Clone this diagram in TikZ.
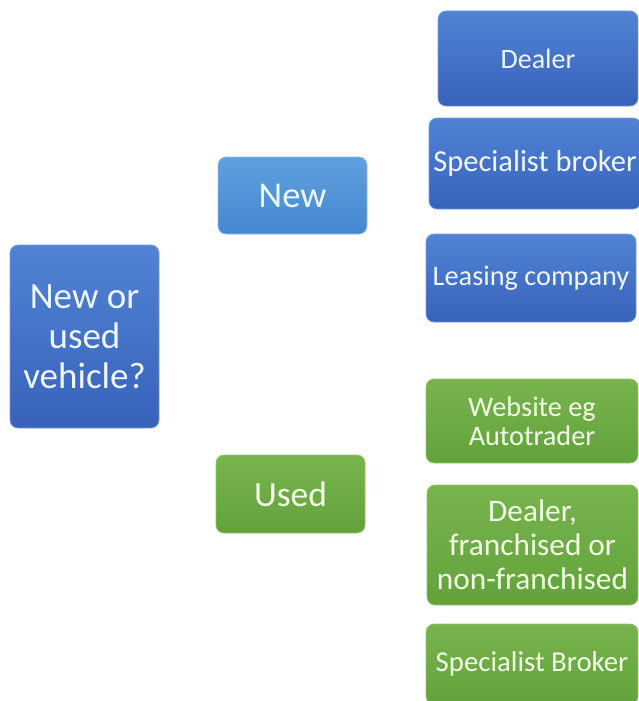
\documentclass[tikz,border=0pt]{standalone}
\usepackage{fontspec}
\setmainfont{Carlito}

% box fills, light at the top and darker below
\definecolor{blueTop}{HTML}{5083D4}
\definecolor{blueBot}{HTML}{3862BA}
\definecolor{skyTop}{HTML}{5FA0DE}
\definecolor{skyBot}{HTML}{4488D0}
\definecolor{greenTop}{HTML}{78B44E}
\definecolor{greenBot}{HTML}{63A23B}
\definecolor{blueText}{HTML}{EEF6FF}
\definecolor{greenText}{HTML}{F2FFE6}

\tikzset{
  box/.style={rectangle,rounded corners=8pt,align=center,inner sep=0pt,line width=0.7pt},
  darkbox/.style={box,draw=blueTop!80!white,top color=blueTop,bottom color=blueBot,text=blueText},
  skybox/.style={box,draw=skyTop!70!white,top color=skyTop,bottom color=skyBot,text=blueText},
  greenbox/.style={box,draw=greenTop!80!white,top color=greenTop,bottom color=greenBot,text=greenText}
}

\begin{document}
\begin{tikzpicture}[x=1pt,y=-1pt]
\clip (0,0) rectangle (639,701);
\fill[white] (0,0) rectangle (639,701);

% question
\node[darkbox,minimum width=149,minimum height=183,font=\fontsize{37}{40}\selectfont] (vehicle) at (84.5,336.5) {New or\\used\\vehicle?};

% the two answers
\node[skybox,minimum width=149,minimum height=77,font=\fontsize{36.5}{40}\selectfont] (new) at (292.5,195.5) {New};
\node[greenbox,minimum width=149,minimum height=78,font=\fontsize{35.5}{40}\selectfont] (used) at (290.5,494) {Used};

% where to buy new
\node[darkbox,minimum width=200,minimum height=95,font=\fontsize{28}{33}\selectfont] (dealer) at (538,58.5) {Dealer};
\node[darkbox,minimum width=212,minimum height=91,font=\fontsize{30.5}{33}\selectfont] (broker) at (535,163.5) {Specialist broker};
\node[darkbox,minimum width=210,minimum height=88,font=\fontsize{28.3}{32}\selectfont] (leasing) at (531,278) {Leasing company};

% where to buy used
\node[greenbox,minimum width=212,minimum height=84,font=\fontsize{28.3}{29}\selectfont] (website) at (532,421) {Website eg\\Autotrader};
\node[greenbox,minimum width=211,minimum height=120,font=\fontsize{31.3}{34}\selectfont] (franchise) at (532.5,545) {Dealer,\\franchised or\\non-franchised};
\node[greenbox,minimum width=212,minimum height=80,font=\fontsize{28.8}{32}\selectfont] (specbroker) at (532,664) {Specialist Broker};
\end{tikzpicture}
\end{document}
